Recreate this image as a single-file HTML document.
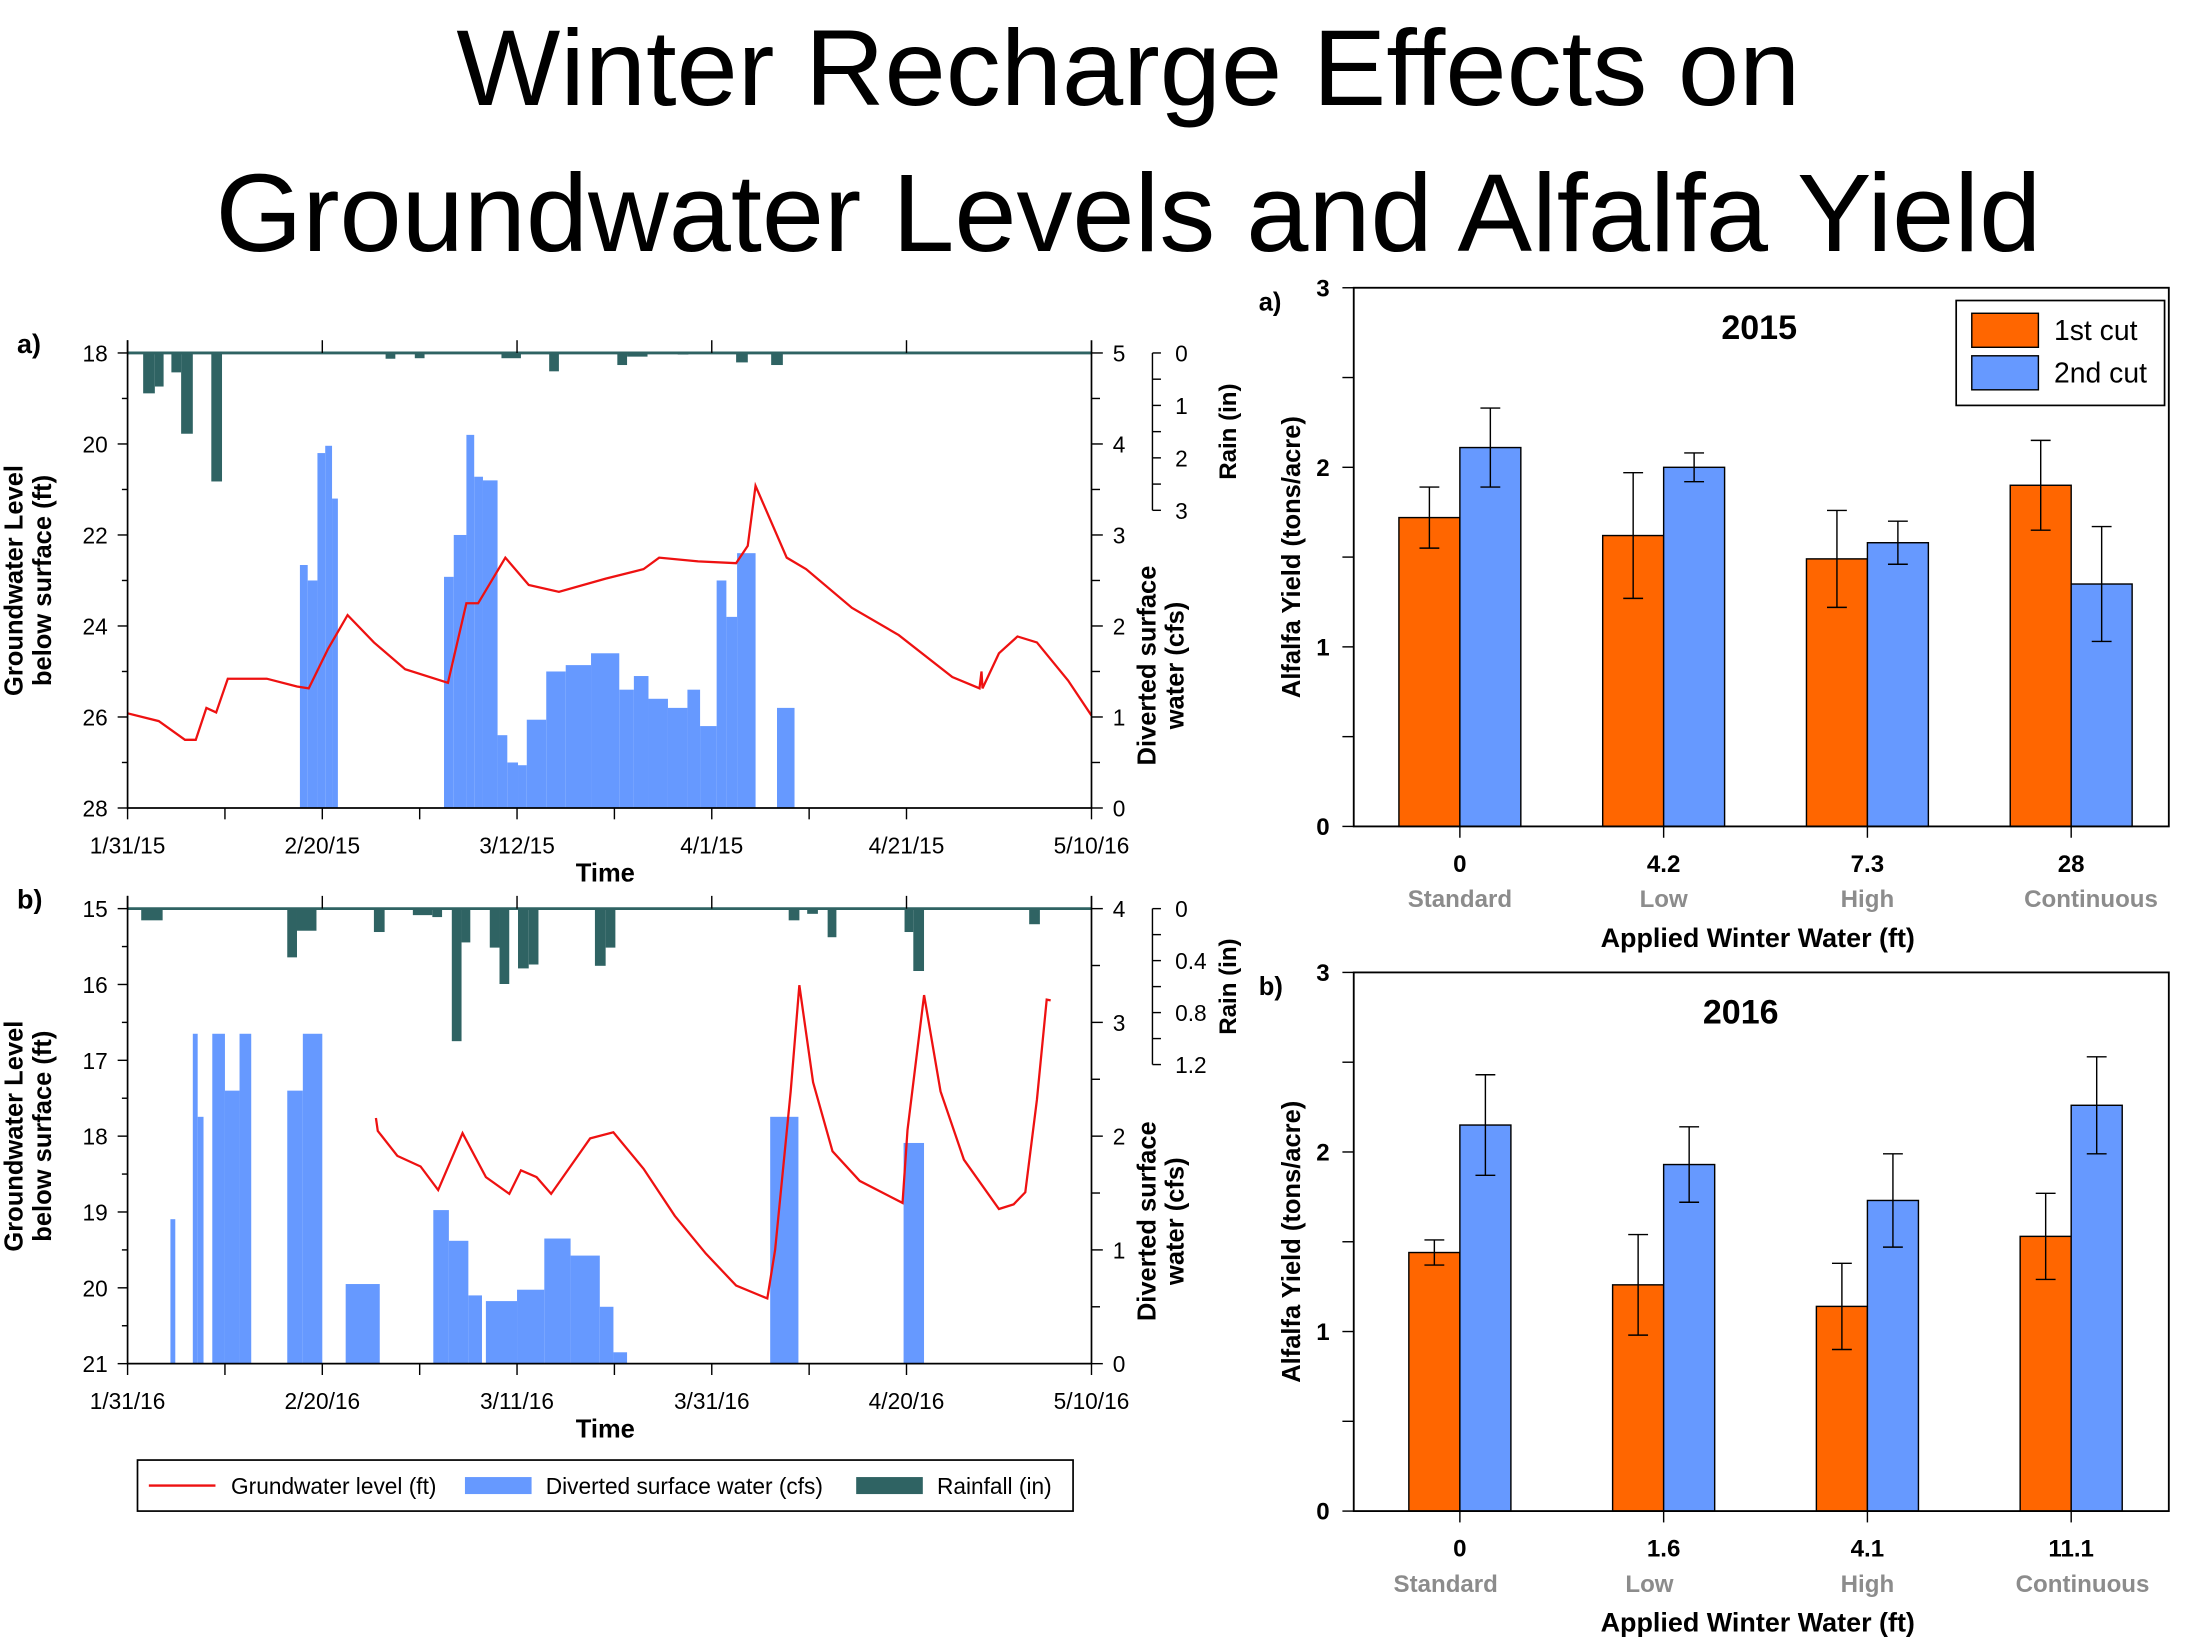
<!DOCTYPE html>
<html><head><meta charset="utf-8"><title>Winter Recharge Effects</title>
<style>
html,body{margin:0;padding:0;background:#fff;}
svg{display:block;}
text{font-family:"Liberation Sans Narrow","Liberation Sans",sans-serif;}
.ttl{font-family:"Liberation Sans",sans-serif;}
</style></head>
<body>
<svg id="root" width="2200" height="1650" viewBox="0 0 1552 1164" xmlns="http://www.w3.org/2000/svg">
<rect x="0" y="0" width="1552" height="1164" fill="#fff"/>
<text class="ttl" x="796" y="74" font-size="76" text-anchor="middle" textLength="948" lengthAdjust="spacingAndGlyphs">Winter Recharge Effects on</text>
<text class="ttl" x="796" y="177" font-size="78" text-anchor="middle" textLength="1288" lengthAdjust="spacingAndGlyphs">Groundwater Levels and Alfalfa Yield</text>
<g id="g"></g>
</svg>
<script>
// ---------- Data: 2015 time series (day since 1/31) ----------
const gwDays15 = [0,3.2,5.9,7,8.1,9.1,10.3,14.3,17.4,18.6,20.6,22.6,25.3,28.5,32.9,34.8,36,38.8,41.2,44.3,49.1,53,54.6,58.6,62.5,63.7,64.5,67.7,69.7,74.4,79.2,84.7,87.5,87.7,87.8,89.5,91.4,93.4,96.6,99];
const gwLevel15 = [25.92,26.09,26.5,26.5,25.8,25.9,25.16,25.16,25.33,25.37,24.5,23.76,24.36,24.95,25.25,23.5,23.5,22.5,23.1,23.25,22.96,22.75,22.5,22.58,22.62,22.24,20.92,22.5,22.75,23.6,24.2,25.12,25.37,25.0,25.37,24.6,24.23,24.36,25.2,25.97];
const divStart15 = [17.7,18.5,19.5,20.3,21.0,32.5,33.5,34.8,35.6,36.5,38.0,39.0,40.1,41.0,43.0,45.0,47.6,50.5,52.0,53.5,55.5,57.5,58.8,60.5,61.5,62.6,66.7];
const divEnd15   = [18.5,19.5,20.3,21.0,21.6,33.5,34.8,35.6,36.5,38.0,39.0,40.1,41.0,43.0,45.0,47.6,50.5,52.0,53.5,55.5,57.5,58.8,60.5,61.5,62.6,64.5,68.5];
const divCfs15   = [2.67,2.5,3.9,3.98,3.4,2.54,3.0,4.1,3.64,3.6,0.8,0.5,0.47,0.97,1.5,1.57,1.7,1.3,1.45,1.2,1.1,1.3,0.9,2.5,2.1,2.8,1.1];
const rainStart15 = [1.6,2.8,4.5,5.5,8.6,26.5,29.5,38.4,43.3,50.3,51.3,56.5,62.5,66.1];
const rainEnd15   = [2.8,3.7,5.5,6.7,9.7,27.5,30.5,40.4,44.3,51.3,53.4,57.6,63.7,67.3];
const rainIn15    = [0.77,0.64,0.37,1.54,2.45,0.11,0.1,0.1,0.35,0.23,0.07,0.03,0.18,0.23];
const dateTicks15 = ["1/31/15","2/20/15","3/12/15","4/1/15","4/21/15","5/10/16"];
// ---------- Data: 2016 time series ----------
const gwDays16 = [25.5,25.7,27.7,30.1,31.9,34.4,36.8,39.2,40.4,42,43.5,47.5,49.9,53,56.2,59.4,62.5,65.7,66.5,68.1,69,70.4,72.4,75.2,79.6,80.1,81.8,83.5,85.9,89.5,91,92.2,93.4,94.4,94.8];
const gwLevel16 = [17.76,17.93,18.26,18.4,18.71,17.96,18.54,18.76,18.45,18.54,18.76,18.03,17.95,18.43,19.05,19.55,19.97,20.14,19.5,17.41,16.01,17.29,18.2,18.59,18.88,17.92,16.14,17.41,18.31,18.96,18.9,18.74,17.52,16.2,16.21];
const divStart16 = [4.4,6.7,7.2,8.7,10.0,11.5,16.4,18.0,22.4,31.4,33.0,35.0,36.8,40.0,42.8,45.5,48.5,49.9,66.0,79.7];
const divEnd16   = [4.9,7.2,7.8,10.0,11.5,12.7,18.0,20.0,25.9,33.0,35.0,36.4,40.0,42.8,45.5,48.5,49.9,51.3,68.9,81.8];
const divCfs16   = [1.27,2.9,2.17,2.9,2.4,2.9,2.4,2.9,0.7,1.35,1.08,0.6,0.55,0.65,1.1,0.95,0.5,0.1,2.17,1.94];
const rainStart16 = [1.4,16.4,17.4,25.3,29.3,31.3,33.3,34.3,37.2,38.2,40.1,41.2,48,49.1,67.9,69.8,71.9,79.8,80.7,92.6];
const rainEnd16   = [3.6,17.4,19.4,26.4,31.3,32.3,34.3,35.2,38.2,39.2,41.2,42.2,49.1,50.1,69,70.9,72.8,80.7,81.8,93.7];
const rainIn16    = [0.09,0.375,0.17,0.18,0.05,0.065,1.02,0.26,0.3,0.58,0.46,0.43,0.44,0.3,0.09,0.04,0.22,0.18,0.48,0.12];
const dateTicks16 = ["1/31/16","2/20/16","3/11/16","3/31/16","4/20/16","5/10/16"];
// ---------- Data: bar charts ----------
const catNames = ["Standard","Low","High","Continuous"];
const water15 = ["0","4.2","7.3","28"];
const cut1_2015 = [1.72,1.62,1.49,1.90];
const cut1err15 = [0.17,0.35,0.27,0.25];
const cut2_2015 = [2.11,2.00,1.58,1.35];
const cut2err15 = [0.22,0.08,0.12,0.32];
const water16 = ["0","1.6","4.1","11.1"];
const cut1_2016 = [1.44,1.26,1.14,1.53];
const cut1err16 = [0.07,0.28,0.24,0.24];
const cut2_2016 = [2.15,1.93,1.73,2.26];
const cut2err16 = [0.28,0.21,0.26,0.27];

const NS="http://www.w3.org/2000/svg";
const G=document.getElementById('g');
function mk(tag,attrs,parent){const e=document.createElementNS(NS,tag);for(const k in attrs)e.setAttribute(k,attrs[k]);(parent||G).appendChild(e);return e;}
function txt(s,attrs,parent){const e=mk('text',attrs,parent);e.textContent=s;return e;}

const RED="#ee1111",BLUE="#6699ff",TEAL="#2f6363",ORANGE="#ff6600";

function drawTS(o){
  const g=mk('g',{});
  
  
  const L=90,R=770,T=o.top,B=o.bottom;
  const xs=d=>L+d*(R-L)/99;
  const yL=v=>T+(v-o.gwMin)*(B-T)/(o.gwMax-o.gwMin);
  const yC=v=>B-v*(B-T)/o.cfsMax;
  const yR=v=>T+v*(o.rainBottom-T)/o.rainMax;
  // diverted water
  for(let i=0;i<o.divS.length;i++){
    const r=mk('rect',{x:xs(o.divS[i]),y:yC(o.divV[i]),width:xs(o.divE[i])-xs(o.divS[i]),height:B-yC(o.divV[i]),fill:BLUE},g);
    
    
  }
  // rain
  for(let i=0;i<o.rS.length;i++){
    const r=mk('rect',{x:xs(o.rS[i]),y:T,width:xs(o.rE[i])-xs(o.rS[i]),height:yR(o.rV[i])-T,fill:TEAL},g);
    
    
  }
  // gw line
  let d='';
  for(let i=0;i<o.gwD.length;i++){d+=(i?'L':'M')+xs(o.gwD[i]).toFixed(1)+','+yL(o.gwV[i]).toFixed(1);}
  const p=mk('path',{d:d,fill:'none',stroke:RED,'stroke-width':1.6},g);
  
  
  // rain baseline
  const bl=mk('line',{x1:L,x2:R,y1:T,y2:T,stroke:TEAL,'stroke-width':2},g);
  
  
  // axes
  const ax=mk('path',{d:`M${L},${T-9}V${B}H${R}V${T-9}`,fill:'none',stroke:'#000','stroke-width':1.2},g);
  
  
  // left ticks
  for(let v=o.gwMin;v<=o.gwMax;v+=o.gwMinor){
    const major=Math.abs((v-o.gwMin)%o.gwStep)<1e-6;
    mk('line',{x1:L-(major?7:4),x2:L,y1:yL(v),y2:yL(v),stroke:'#000'},g);
    if(major){const t=txt(String(v),{x:L-14,y:yL(v)+6,'font-size':16,'text-anchor':'end'},g);
      
      }
  }
  // right ticks
  for(let v=0;v<=o.cfsMax+1e-6;v+=0.5){
    const major=Math.abs(v%1)<1e-6;
    mk('line',{x1:R,x2:R+(major?8:6),y1:yC(v),y2:yC(v),stroke:'#000'},g);
    if(major){const t=txt(String(v),{x:R+15,y:yC(v)+6,'font-size':16},g);
      
      }
  }
  // rain axis
  const RX=813;
  mk('line',{x1:RX,x2:RX,y1:T,y2:o.rainBottom,stroke:'#000'},g);
  for(let i=0;i<=6;i++){
    const v=o.rainMax*i/6;
    mk('line',{x1:RX,x2:RX+6,y1:yR(v),y2:yR(v),stroke:'#000'},g);
    if(i%2===0){const t=txt(o.rainLabels[i/2],{x:RX+16,y:yR(v)+6,'font-size':16},g);
      
      }
  }
  // bottom / top ticks
  for(let k=0;k<=9;k++){
    const dd=Math.min(k*11,99);const x=L+k*(R-L)/9.9;
    const xx=k===9?R:x;
    mk('line',{x1:xx,x2:xx,y1:B,y2:B+8,stroke:'#000'},g);
    if(k%2===0&&k<9){mk('line',{x1:xx,x2:xx,y1:T-9,y2:T,stroke:'#000'},g);}
  }
  for(let k=0;k<o.ticks.length;k++){
    const x=k===5?R:L+k*2*(R-L)/9.9;
    const t=txt(o.ticks[k],{x:x,y:B+32,'font-size':16,'text-anchor':'middle'},g);
    
    
  }
  const tt=txt('Time',{x:427,y:B+52,'font-size':18,'font-weight':'bold','text-anchor':'middle'},g);
  
  
  const cy=(T+B)/2;
  const yl=txt('',{transform:`translate(20,${cy}) rotate(-90)`,'font-size':18,'font-weight':'bold','text-anchor':'middle',style:'font-family:"Liberation Sans",sans-serif'},g);
  
  
  mk('tspan',{x:0,y:-4},yl).textContent='Groundwater Level';
  mk('tspan',{x:0,y:16},yl).textContent='below surface (ft)';
  const yr=txt('',{transform:`translate(815,${cy+60}) rotate(-90)`,'font-size':18,'font-weight':'bold','text-anchor':'middle',style:'font-family:"Liberation Sans",sans-serif'},g);
  
  
  mk('tspan',{x:0,y:0},yr).textContent='Diverted surface';
  mk('tspan',{x:0,y:20},yr).textContent='water (cfs)';
  const rt=txt('Rain (in)',{transform:`translate(872,${(T+o.rainBottom)/2}) rotate(-90)`,'font-size':17,'font-weight':'bold','text-anchor':'middle',style:'font-family:"Liberation Sans",sans-serif'},g);
  
  
  const pl=txt(o.panel,{x:12,y:T,'font-size':19,'font-weight':'bold'},g);
  
  
}

drawTS({name:'groundwater-chart-2015',top:249,bottom:570,gwMin:18,gwMax:28,gwStep:2,gwMinor:1,cfsMax:5,rainMax:3,rainBottom:360,rainLabels:["0","1","2","3"],
  gwD:gwDays15,gwV:gwLevel15,divS:divStart15,divE:divEnd15,divV:divCfs15,rS:rainStart15,rE:rainEnd15,rV:rainIn15,ticks:dateTicks15,panel:'a)'});
drawTS({name:'groundwater-chart-2016',top:641,bottom:962,gwMin:15,gwMax:21,gwStep:1,gwMinor:0.5,cfsMax:4,rainMax:1.2,rainBottom:751,rainLabels:["0","0.4","0.8","1.2"],
  gwD:gwDays16,gwV:gwLevel16,divS:divStart16,divE:divEnd16,divV:divCfs16,rS:rainStart16,rE:rainEnd16,rV:rainIn16,ticks:dateTicks16,panel:'b)'});

// legend
(function(){
  const g=mk('g',{});
  
  
  mk('rect',{x:97,y:1030,width:660,height:36,fill:'#fff',stroke:'#000','stroke-width':1.2},g);
  mk('line',{x1:105,x2:152,y1:1048,y2:1048,stroke:RED,'stroke-width':1.6},g);
  const a=txt('Grundwater level (ft)',{x:163,y:1054,'font-size':16},g);
  
  
  mk('rect',{x:328,y:1042,width:47,height:12,fill:BLUE},g);
  const b=txt('Diverted surface water (cfs)',{x:385,y:1054,'font-size':16},g);
  
  
  mk('rect',{x:604,y:1042,width:47,height:12,fill:TEAL},g);
  const c=txt('Rainfall (in)',{x:661,y:1054,'font-size':16},g);
  
  
})();

function drawBars(o){
  const g=mk('g',{});
  
  
  const L=955,R=1530,T=o.top,B=o.bottom;
  const y=v=>B-v*(B-T)/3;
  const cx=i=>L+(R-L)*(0.125+0.25*i)+o.shift;
  const bw=o.bw;
  for(let i=0;i<4;i++){
    const series=[[o.s1,o.e1,ORANGE,-1,'bar-1st-cut'],[o.s2,o.e2,BLUE,0,'bar-2nd-cut']];
    for(const [s,e,c,off,nm] of series){
      const x=cx(i)+off*bw;
      const r=mk('rect',{x:x,y:y(s[i]),width:bw,height:B-y(s[i]),fill:c,stroke:'#000','stroke-width':1},g);
      
      
      const m=x+bw/2;
      const eb=mk('path',{d:`M${m},${y(s[i]+e[i])}V${y(s[i]-e[i])}M${m-7},${y(s[i]+e[i])}H${m+7}M${m-7},${y(s[i]-e[i])}H${m+7}`,stroke:'#000','stroke-width':1,fill:'none'},g);
      
      
    }
    mk('line',{x1:cx(i),x2:cx(i),y1:B,y2:B+8,stroke:'#000'},g);
    const t=txt(o.water[i],{x:cx(i),y:B+32,'font-size':17,'font-weight':'bold','text-anchor':'middle'},g);
    
    
    const n=txt(catNames[i],{x:cx(i)-o.nameShift[i],y:B+57,'font-size':17,'font-weight':'bold','text-anchor':'middle',fill:'#8c8c8c'},g);
    
    
  }
  const fr=mk('rect',{x:L,y:T,width:R-L,height:B-T,fill:'none',stroke:'#000','stroke-width':1.3},g);
  
  
  for(let k=0;k<=6;k++){
    const v=k/2;
    mk('line',{x1:L-8,x2:L,y1:y(v),y2:y(v),stroke:'#000'},g);
    if(k%2===0){const t=txt(String(v),{x:L-17,y:y(v)+6,'font-size':17,'font-weight':'bold','text-anchor':'end'},g);
      
      }
  }
  const yt=txt('Alfalfa Yield (tons/acre)',{transform:`translate(917,${(T+B)/2}) rotate(-90)`,'font-size':18,'font-weight':'bold','text-anchor':'middle',style:'font-family:"Liberation Sans",sans-serif'},g);
  
  
  const xt=txt('Applied Winter Water (ft)',{x:1240,y:B+85,'font-size':19,'font-weight':'bold','text-anchor':'middle'},g);
  
  
  const yr=txt(o.year,{x:o.yearX,y:T+36,'font-size':24,'font-weight':'bold','text-anchor':'middle'},g);
  
  
  const pl=txt(o.panel,{x:888,y:T+16,'font-size':18,'font-weight':'bold'},g);
  
  
}
drawBars({name:'yield-chart-2015',top:203,bottom:583,s1:cut1_2015,e1:cut1err15,s2:cut2_2015,e2:cut2err15,water:water15,bw:43,shift:3,year:'2015',yearX:1241,panel:'a)',nameShift:[0,0,0,-14]});
drawBars({name:'yield-chart-2016',top:686,bottom:1066,s1:cut1_2016,e1:cut1err16,s2:cut2_2016,e2:cut2err16,water:water16,bw:36,shift:3,year:'2016',yearX:1228,panel:'b)',nameShift:[10,10,0,-8]});

// bar legend
(function(){
  const g=mk('g',{});
  
  
  mk('rect',{x:1380,y:212,width:147,height:74,fill:'#fff',stroke:'#000','stroke-width':1.2},g);
  mk('rect',{x:1391,y:221,width:47,height:24,fill:ORANGE,stroke:'#000'},g);
  mk('rect',{x:1391,y:251,width:47,height:24,fill:BLUE,stroke:'#000'},g);
  const a=txt('1st cut',{x:1449,y:240,'font-size':20},g);
  
  
  const b=txt('2nd cut',{x:1449,y:270,'font-size':20},g);
  
  
})();
</script>
</body></html>
